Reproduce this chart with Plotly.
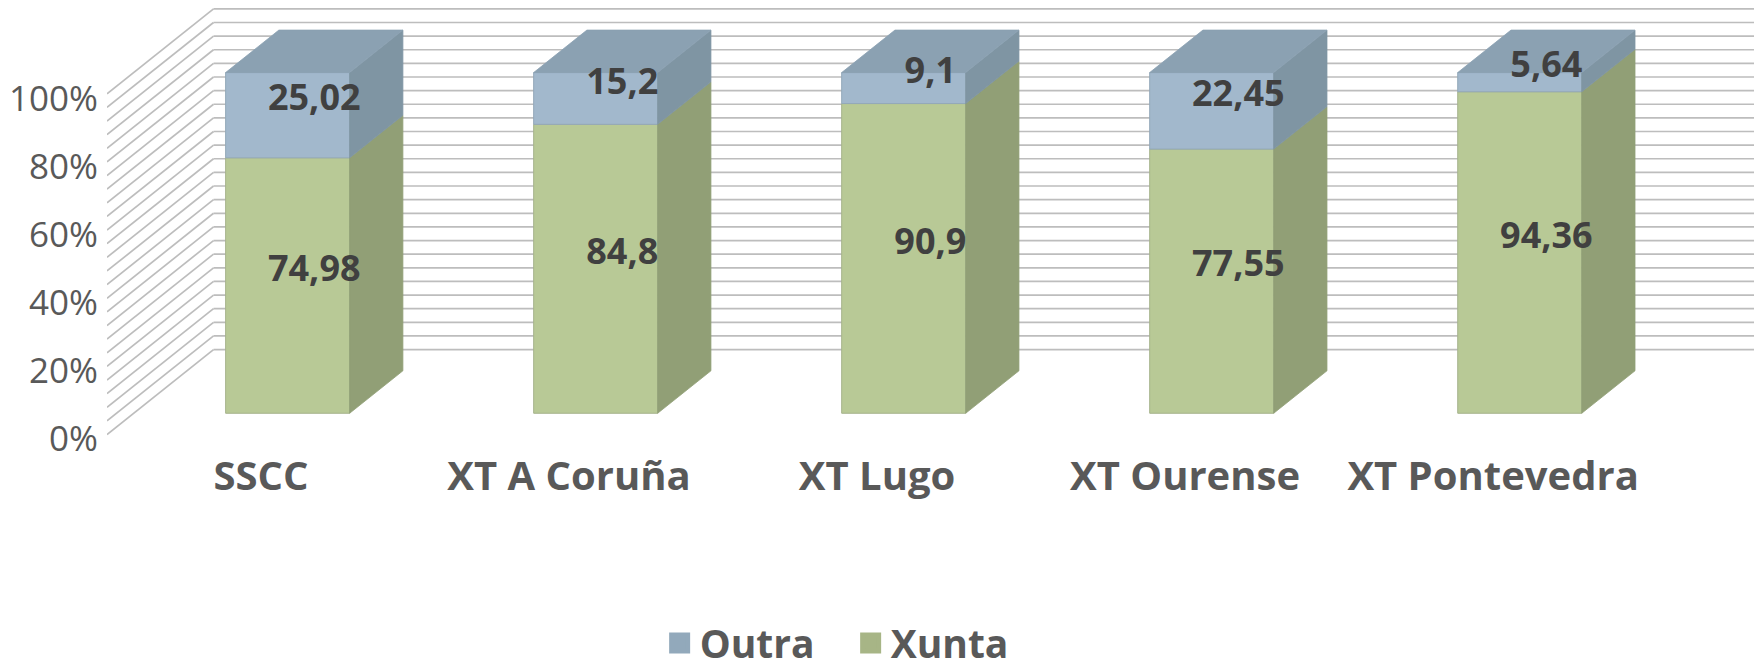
import plotly.graph_objects as go

categories = ["SSCC", "XT A Coruña", "XT Lugo", "XT Ourense", "XT Pontevedra"]
xunta = [74.98, 84.8, 90.9, 77.55, 94.36]
outra = [25.02, 15.2, 9.1, 22.45, 5.64]
y_ticks = [0, 20, 40, 60, 80, 100]
y_tick_labels = ["0%", "20%", "40%", "60%", "80%", "100%"]
grid_values = [0, 4, 8, 12, 16, 20, 24, 28, 32, 36, 40, 44, 48, 52, 56, 60, 64, 68, 72, 76, 80, 84, 88, 92, 96, 100]

FONT = "Open Sans"
TEXT = "#595959"
LABEL = "#404040"
GREEN, GREEN_SIDE, GREEN_EDGE = "#B8C996", "#919F76", "#A6B38C"
BLUE, BLUE_SIDE, BLUE_TOP, BLUE_EDGE = "#A2B8CC", "#7F95A3", "#8BA1B2", "#93A8B9"
GRID = "#BDBDBD"

# oblique projection: depth z runs 0 (front of the wall) .. 1 (back wall)
DEPTH_X, DEPTH_Y, LIFT = 0.3458, 24.93, 1.32
BAR_W, Z_FRONT, Z_BACK = 0.4026, 0.25, 0.75
X_RANGE = [-0.5, 4.847]
Y_RANGE = [0, 126.5]
LABEL_DROP = 2.2


def px(x, z):
    return x + z * DEPTH_X


def py(v, z):
    return v + LIFT + z * DEPTH_Y


fig = go.Figure()

# floor/side wall + back wall grid lines
for v in grid_values:
    fig.add_shape(type="line", xref="x", yref="y", layer="below",
                  x0=px(X_RANGE[0], 0), y0=py(v, 0), x1=px(X_RANGE[0], 1), y1=py(v, 1),
                  line=dict(color=GRID, width=1.7))
    fig.add_shape(type="line", xref="x", yref="y", layer="below",
                  x0=px(X_RANGE[0], 1), y0=py(v, 1), x1=X_RANGE[1], y1=py(v, 1),
                  line=dict(color=GRID, width=1.7))

positions = list(range(len(categories)))


def poly(xs, ys, fill, edge):
    fig.add_trace(go.Scatter(x=xs, y=ys, mode="lines", fill="toself", fillcolor=fill,
                             line=dict(color=edge, width=0.8), showlegend=False, hoverinfo="skip"))


# front faces
base_front = py(0, Z_FRONT)
fig.add_trace(go.Bar(x=[px(p, Z_FRONT) for p in positions], y=xunta, base=[base_front] * 5,
                     width=BAR_W, marker=dict(color=GREEN, line=dict(color=GREEN_EDGE, width=1)),
                     showlegend=False, hoverinfo="skip", name="Xunta"))
fig.add_trace(go.Bar(x=[px(p, Z_FRONT) for p in positions], y=outra,
                     base=[base_front + v for v in xunta],
                     width=BAR_W, marker=dict(color=BLUE, line=dict(color=BLUE_EDGE, width=1)),
                     showlegend=False, hoverinfo="skip", name="Outra"))

# side and top faces
for p, g, o in zip(positions, xunta, outra):
    right = p + BAR_W / 2
    left = p - BAR_W / 2
    total = g + o
    poly([px(right, Z_FRONT), px(right, Z_BACK), px(right, Z_BACK), px(right, Z_FRONT), px(right, Z_FRONT)],
         [py(0, Z_FRONT), py(0, Z_BACK), py(g, Z_BACK), py(g, Z_FRONT), py(0, Z_FRONT)], GREEN_SIDE, GREEN_SIDE)
    poly([px(right, Z_FRONT), px(right, Z_BACK), px(right, Z_BACK), px(right, Z_FRONT), px(right, Z_FRONT)],
         [py(g, Z_FRONT), py(g, Z_BACK), py(total, Z_BACK), py(total, Z_FRONT), py(g, Z_FRONT)], BLUE_SIDE, BLUE_SIDE)
    poly([px(left, Z_FRONT), px(left, Z_BACK), px(right, Z_BACK), px(right, Z_FRONT), px(left, Z_FRONT)],
         [py(total, Z_FRONT), py(total, Z_BACK), py(total, Z_BACK), py(total, Z_FRONT), py(total, Z_FRONT)],
         BLUE_TOP, BLUE_TOP)


# data labels, placed at the middle of the bar's depth
def fmt(v):
    return f"{v:g}".replace(".", ",")


label_z = 0.5
label_x = [px(p, label_z) for p in positions]
fig.add_trace(go.Scatter(x=label_x, y=[py(v / 2, label_z) - LABEL_DROP for v in xunta], mode="text",
                         text=[fmt(v) for v in xunta], showlegend=False, hoverinfo="skip",
                         textfont=dict(family=FONT, size=36, color=LABEL, weight="bold")))
fig.add_trace(go.Scatter(x=label_x, y=[py(g + o / 2, label_z) - LABEL_DROP for g, o in zip(xunta, outra)], mode="text",
                         text=[fmt(v) for v in outra], showlegend=False, hoverinfo="skip",
                         textfont=dict(family=FONT, size=36, color=LABEL, weight="bold")))

# legend keys
fig.add_trace(go.Scatter(x=[None], y=[None], mode="markers", name="Outra",
                         marker=dict(symbol="square", size=16, color="#92A9BB", line=dict(color="#92A9BB", width=5))))
fig.add_trace(go.Scatter(x=[None], y=[None], mode="markers", name="Xunta",
                         marker=dict(symbol="square", size=16, color="#A7B586", line=dict(color="#A7B586", width=5))))

fig.update_layout(
    width=1760, height=670, autosize=False,
    paper_bgcolor="white", plot_bgcolor="rgba(0,0,0,0)",
    margin=dict(l=106.7, r=6, t=8, b=230.5, pad=0, autoexpand=False),
    barmode="overlay", showlegend=True,
    font=dict(family=FONT, color=TEXT),
    legend=dict(orientation="h", x=0.3748, y=0.04, xref="container", yref="container",
                xanchor="left", yanchor="middle", itemsizing="trace",
                entrywidth=146, entrywidthmode="pixels",
                font=dict(family=FONT, size=39, color=TEXT, weight="bold"),
                bgcolor="rgba(0,0,0,0)"),
    xaxis=dict(range=X_RANGE, tickmode="array", tickvals=positions, ticktext=categories,
               showgrid=False, zeroline=False, showline=False, ticks="", ticklabelstandoff=10,
               tickfont=dict(family=FONT, size=40, color=TEXT, weight="bold"), fixedrange=True),
    yaxis=dict(range=Y_RANGE, tickmode="array", tickvals=y_ticks, ticktext=y_tick_labels,
               showgrid=False, zeroline=False, showline=False, ticks="", ticklabelstandoff=8,
               tickfont=dict(family=FONT, size=35, color=TEXT), fixedrange=True),
)

fig.write_html("out.html", config={"displayModeBar": False},
               post_script="document.body.style.margin='0';document.documentElement.style.overflow='hidden';")
